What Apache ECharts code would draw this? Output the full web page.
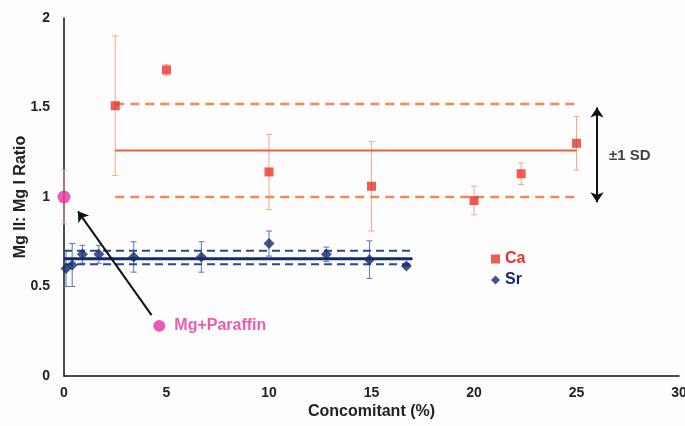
<!DOCTYPE html>
<html>
<head>
<meta charset="utf-8">
<script src="https://cdn.jsdelivr.net/npm/echarts@6/dist/echarts.min.js"></script>
<style>
html, body { margin: 0; padding: 0; background: #fdfdfd; }
#chart { width: 685px; height: 426px; }
</style>
</head>
<body>
<div id="chart"></div>
<script>
// Ca data: concomitant %, ratio, sd
var caX = [2.5, 5, 10, 15, 20, 22.3, 25];
var caY = [1.51, 1.71, 1.14, 1.06, 0.98, 1.13, 1.30];
var caErr = [0.39, 0.03, 0.21, 0.25, 0.08, 0.06, 0.15];
var caMean = 1.26, caUpper = 1.52, caLower = 1.0;
var caRange = [2.5, 25];

// Sr data
var srX = [0.1, 0.4, 0.9, 1.7, 3.4, 6.7, 10, 12.8, 14.9, 16.7];
var srY = [0.60, 0.62, 0.68, 0.68, 0.665, 0.665, 0.74, 0.68, 0.65, 0.615];
var srErr = [0.10, 0.12, 0.05, 0.05, 0.085, 0.085, 0.07, 0.04, 0.105, 0];
var srMean = 0.655, srUpper = 0.70, srLower = 0.625;
var srRange = [0, 17];

// Mg reference points
var mgPoint = [0, 1.0], mgErr = 0.15;
var paraffinPoint = [4.65, 0.28];
var arrowFrom = [4.27, 0.34], arrowTo = [0.68, 0.92];
var sdArrowX = 26.0, sdArrow = [0.97, 1.50];
var sdLabel = [27.6, 1.23];

var xTicks = [0, 30, 5];
var yTicks = [0, 2, 0.5];

var FONT = 'Liberation Sans';

function errData(xs, ys, es) {
    return xs.map(function (x, i) { return [x, ys[i] - es[i], ys[i] + es[i]]; });
}
function pairs(xs, ys) {
    return xs.map(function (x, i) { return [x, ys[i]]; });
}
function errSeries(data, color) {
    return {
        type: 'custom',
        silent: true,
        data: data,
        z: 1,
        renderItem: function (params, api) {
            var lo = api.coord([api.value(0), api.value(1)]);
            var hi = api.coord([api.value(0), api.value(2)]);
            var w = 3;
            var st = { stroke: color, lineWidth: 1 };
            return {
                type: 'group',
                children: [
                    { type: 'line', shape: { x1: lo[0], y1: lo[1], x2: hi[0], y2: hi[1] }, style: st },
                    { type: 'line', shape: { x1: lo[0] - w, y1: lo[1], x2: lo[0] + w, y2: lo[1] }, style: st },
                    { type: 'line', shape: { x1: hi[0] - w, y1: hi[1], x2: hi[0] + w, y2: hi[1] }, style: st }
                ]
            };
        }
    };
}
function hLine(range, y, color, width, type) {
    return {
        type: 'line',
        silent: true,
        symbol: 'none',
        z: 2,
        data: [[range[0], y], [range[1], y]],
        lineStyle: { color: color, width: width, type: type }
    };
}

var chart = echarts.init(document.getElementById('chart'));
var option = {
    animation: false,
    backgroundColor: '#fdfdfd',
    grid: { left: 64, right: 6, top: 18, bottom: 50, outerBoundsMode: 'none', containLabel: false },
    legend: {
        orient: 'vertical',
        left: 486,
        top: 246,
        itemWidth: 9,
        itemHeight: 9,
        itemGap: 5,
        data: [
            { name: 'Ca', icon: 'rect', textStyle: { color: '#e8332a' } },
            { name: 'Sr', icon: 'diamond', textStyle: { color: '#152a6b' } }
        ],
        textStyle: { fontFamily: FONT, fontWeight: 'bold', fontSize: 16 }
    },
    xAxis: {
        type: 'value',
        min: xTicks[0], max: xTicks[1], interval: xTicks[2],
        name: 'Concomitant (%)',
        nameLocation: 'middle',
        nameGap: 28,
        nameMoveOverlap: false,
        nameTextStyle: { fontFamily: FONT, fontWeight: 'bold', fontSize: 16, color: '#222' },
        axisLine: { lineStyle: { color: '#111', width: 1.5 } },
        axisTick: { show: false },
        splitLine: { show: false },
        axisLabel: { fontFamily: FONT, fontWeight: 'bold', fontSize: 14, color: '#222', margin: 10 }
    },
    yAxis: {
        type: 'value',
        min: yTicks[0], max: yTicks[1], interval: yTicks[2],
        name: 'Mg II: Mg I Ratio',
        nameLocation: 'middle',
        nameGap: 35,
        nameMoveOverlap: false,
        nameTextStyle: { fontFamily: FONT, fontWeight: 'bold', fontSize: 16, color: '#222' },
        axisLine: { show: true, lineStyle: { color: '#111', width: 1.5 } },
        axisTick: { show: false },
        splitLine: { show: false },
        axisLabel: { fontFamily: FONT, fontWeight: 'bold', fontSize: 14, color: '#222', margin: 14 }
    },
    series: [
        errSeries(errData(caX, caY, caErr), '#f5a88e'),
        errSeries(errData(srX, srY, srErr), '#5a78b0'),
        errSeries([[mgPoint[0], mgPoint[1] - mgErr, mgPoint[1] + mgErr]], '#f5b090'),
        hLine(caRange, caMean, '#f0603c', 2, 'solid'),
        hLine(caRange, caUpper, '#f4875a', 2.5, [9, 6]),
        hLine(caRange, caLower, '#f4875a', 2.5, [9, 6]),
        hLine(srRange, srMean, '#152a6b', 3, 'solid'),
        hLine(srRange, srUpper, '#2a4a8a', 2, [8, 5]),
        hLine(srRange, srLower, '#2a4a8a', 2, [8, 5]),
        {
            name: 'Ca',
            type: 'scatter',
            symbol: 'rect',
            symbolSize: 9,
            z: 5,
            itemStyle: { color: '#e8332a' },
            data: pairs(caX, caY)
        },
        {
            name: 'Sr',
            type: 'scatter',
            symbol: 'diamond',
            symbolSize: 11,
            z: 5,
            itemStyle: { color: '#152a6b' },
            data: pairs(srX, srY)
        },
        {
            type: 'scatter',
            symbol: 'circle',
            symbolSize: 13,
            z: 6,
            itemStyle: { color: '#e6339a' },
            data: [mgPoint],
            markLine: {
                silent: true,
                symbol: ['none', 'arrow'],
                symbolSize: 10,
                label: { show: false },
                lineStyle: { color: '#111', width: 2, type: 'solid' },
                data: [
                    [{ coord: arrowFrom }, { coord: arrowTo }]
                ]
            }
        },
        {
            type: 'scatter',
            symbol: 'circle',
            symbolSize: 12,
            z: 6,
            itemStyle: { color: '#e6339a' },
            label: {
                show: true,
                position: 'right',
                distance: 9,
                formatter: 'Mg+Paraffin',
                fontFamily: FONT, fontWeight: 'bold', fontSize: 16, color: '#e6339a'
            },
            data: [paraffinPoint],
            markLine: {
                silent: true,
                symbol: ['arrow', 'arrow'],
                symbolSize: 10,
                label: { show: false },
                lineStyle: { color: '#111', width: 2, type: 'solid' },
                data: [
                    [{ coord: [sdArrowX, sdArrow[0]] }, { coord: [sdArrowX, sdArrow[1]] }]
                ]
            }
        },
        {
            type: 'scatter',
            symbolSize: 0,
            silent: true,
            label: {
                show: true,
                position: 'inside',
                formatter: '±1 SD',
                fontFamily: FONT, fontWeight: 'bold', fontSize: 15, color: '#111'
            },
            data: [sdLabel]
        }
    ]
};
chart.setOption(option);
</script>
</body>
</html>
